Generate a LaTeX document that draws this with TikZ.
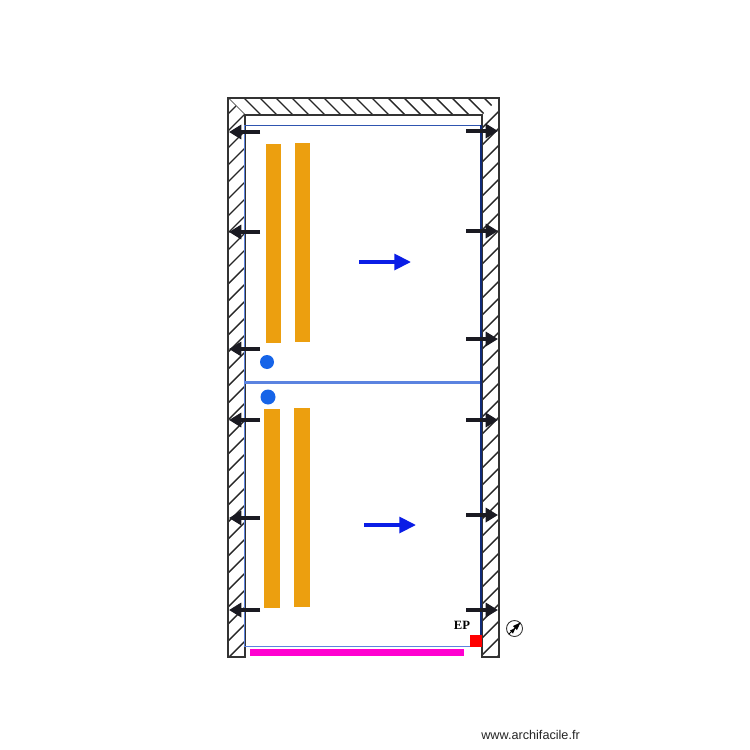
\documentclass[tikz,border=0pt]{standalone}
\usepackage{fontspec}
\setmainfont{Liberation Sans}
\newfontfamily\serifbold{Liberation Serif}
\usetikzlibrary{arrows.meta}
\definecolor{wallc}{HTML}{333333}
\definecolor{arrowc}{HTML}{1A1A22}
\definecolor{barc}{HTML}{EC9F0F}
\definecolor{dotc}{HTML}{1664E8}
\definecolor{arrowb}{HTML}{0A1DE6}
\definecolor{linel}{HTML}{5B83E0}
\definecolor{linet}{HTML}{2F55B0}
\definecolor{linen}{HTML}{0F2A78}
\definecolor{magentac}{HTML}{FF00D0}
\tikzset{
  x=0.02cm,y=-0.02cm,
  wall/.style={draw=wallc,line width=1.3pt,line join=miter},
  hatchline/.style={draw=black!85,line width=0.8pt},
  bar/.style={fill=barc,draw=none},
  dot/.style={circle,fill=dotc,draw=none,minimum size=0.28cm,inner sep=0pt},
  heat/.style={draw=arrowc,line width=2.3pt,-{Triangle[length=7pt,width=8pt]}},
  flow/.style={draw=arrowb,line width=2.1pt,-{Triangle[length=9.5pt,width=9pt]}},
}
\begin{document}
\begin{tikzpicture}
\useasboundingbox (0,0) rectangle (750,750);
\fill[white] (0,0) rectangle (750,750);
% hatching
\begin{scope}
\clip (228,98) -- (245,115) -- (245,657) -- (228,657) -- cycle;
\foreach \i in {0,...,36} \draw[hatchline] (220,{122+\i*17}) -- (250,{92+\i*17});
\end{scope}
\begin{scope}
\clip (499,98) -- (482,115) -- (482,657) -- (499,657) -- cycle;
\foreach \i in {0,...,36} \draw[hatchline] (475,{118+\i*17}) -- (505,{88+\i*17});
\end{scope}
\begin{scope}
\clip (228,98) -- (499,98) -- (482,115) -- (245,115) -- cycle;
\foreach \i in {0,...,18} \draw[hatchline] ({222+\i*16},92) -- ({252+\i*16},122);
\end{scope}
% walls
\draw[wall] (245,657) -- (228,657) -- (228,98) -- (499,98) -- (499,657) -- (482,657) -- (482,115) -- (245,115) -- cycle;
% thin room lines
\draw[linet,line width=0.5pt] (245,125) -- (481,125);
\draw[linel,line width=0.7pt] (244.5,125) -- (244.5,646.5) -- (470,646.5);
\draw[linen,line width=1.2pt] (481,125) -- (481,635);
\draw[linel,line width=1.2pt] (245,382.5) -- (480,382.5);
% bars
\fill[bar] (266,144) rectangle (281,343);
\fill[bar] (295,143) rectangle (310,342);
\fill[bar] (264,409) rectangle (280,608);
\fill[bar] (294,408) rectangle (310,607);
% dots
\node[dot] (d1) at (267,362) {};
\node[dot,minimum size=0.3cm] (d2) at (268,397) {};
% black arrows
\foreach \n/\yy in {a/132,b/232,c/349,d/420,e/518,f/610} {
  \coordinate (l\n s) at (260,\yy); \coordinate (l\n e) at (229,\yy);
  \draw[heat] (l\n s) -- (l\n e);
}
\foreach \n/\yy in {a/131,b/231,c/339,d/420,e/515,f/610} {
  \coordinate (r\n s) at (466,\yy); \coordinate (r\n e) at (498,\yy);
  \draw[heat] (r\n s) -- (r\n e);
}
% blue arrows
\coordinate (f1s) at (359,262); \coordinate (f1e) at (411,262);
\coordinate (f2s) at (364,525); \coordinate (f2e) at (416,525);
\draw[flow] (f1s) -- (f1e);
\draw[flow] (f2s) -- (f2e);
% bottom
\fill[magentac] (250,649) rectangle (464,656);
\fill[red] (470,635) rectangle (482,647);
\node[font=\serifbold\bfseries\fontsize{7.2}{8}\selectfont,inner sep=0pt] (ep) at (462,625) {EP};
% north symbol
\node[circle,draw=black!80,line width=0.5pt,minimum size=0.32cm,inner sep=0pt] (north) at (514.5,628.5) {};
\draw[black,line width=0.5pt] (509,634) -- (520,623);
\fill[black] (520.5,622.5) -- (513,626) -- (517,630) -- cycle;
\fill[black] (515.5,628) -- (510,630.5) -- (513,633.5) -- cycle;
% credit
\node[anchor=base west,inner sep=0pt,font=\fontsize{7.2}{8}\selectfont,text=black!85] (credit) at (481,739.5) {www.archifacile.fr};
\end{tikzpicture}
\end{document}
